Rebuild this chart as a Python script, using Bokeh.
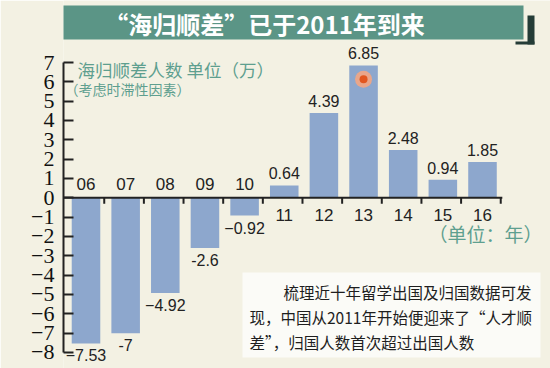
from bokeh.plotting import figure
from bokeh.models import ColumnDataSource, FixedTicker, BoxAnnotation, Range1d
from bokeh.core.properties import value
from bokeh.embed import file_html
from bokeh.resources import INLINE

# ---- data ----
years = ["06", "07", "08", "09", "10", "11", "12", "13", "14", "15", "16"]
net_returnees = [-7.53, -7, -4.92, -2.6, -0.92, 0.64, 4.39, 6.85, 2.48, 0.94, 1.85]
value_labels = ["\u22127.53", "-7", "\u22124.92", "-2.6", "\u22120.92", "0.64", "4.39", "6.85", "2.48", "0.94", "1.85"]
y_ticks = list(range(-8, 8))

title_text = "\u201c海归顺差\u201d已于2011年到来"
note1 = "海归顺差人数 单位（万）"
note2 = "（考虑时滞性因素）"
unit_text = "（单位：年）"
box_lines = ["梳理近十年留学出国及归国数据可发",
             "现，中国从2011年开始便迎来了\u201c人才顺",
             "差\u201d，归国人数首次超过出国人数"]

# ---- geometry helpers (canvas-pixel -> data) ----
PXX = 39.65
X0 = 85.5
PXY = 19.333
Y0 = 62 + 7 * PXY


def dx(px):
    return (px - X0) / PXX


def dy(py):
    return (Y0 - py) / PXY


W, H = 550, 368
LEFT = 63
BG = "#f3f1e3"
TEAL = "#5e9f8f"

x_start = dx(LEFT)
x_end = x_start + (W - LEFT) / PXX
y_end = dy(0)
y_start = dy(H)

p = figure(width=W, height=H, output_backend="svg", toolbar_location=None,
           x_range=Range1d(x_start, x_end), y_range=Range1d(y_start, y_end),
           x_axis_location=None, min_border_left=LEFT, min_border_right=0,
           min_border_top=0, min_border_bottom=0)
p.background_fill_color = BG
p.border_fill_color = BG
p.outline_line_color = None
p.xgrid.visible = False
p.ygrid.visible = False

ax = p.yaxis[0]
ax.ticker = FixedTicker(ticks=y_ticks)
ax.bounds = (-8, 7)
ax.major_tick_in = 10
ax.major_tick_out = 0
ax.minor_tick_line_color = None
ax.axis_line_width = 2
ax.axis_line_color = "#222222"
ax.major_tick_line_width = 2
ax.major_tick_line_color = "#222222"
ax.major_label_text_font = "Liberation Serif"
ax.major_label_text_font_size = "22px"
ax.major_label_text_color = "#111111"
ax.major_label_standoff = 9


def canvas_box(l, r, t, b, color, level="annotation"):
    return BoxAnnotation(left=l, right=r, top=t, bottom=b,
                         left_units="canvas", right_units="canvas",
                         top_units="canvas", bottom_units="canvas",
                         fill_color=color, fill_alpha=1, line_color=None, level=level)


# banner
p.add_layout(canvas_box(24, 523, 5, 39, "#5b9586", "underlay"))
for (l, r, t, b) in [(14, 22, 15, 43), (14, 33, 40, 43), (527, 534, 15, 44), (515, 534, 41, 44)]:
    p.add_layout(canvas_box(l, r, t, b, "#243c37"))
# text box
p.add_layout(canvas_box(242, 540, 272, 357, "#fbfbf7", "underlay"))

idx = list(range(len(years)))
src = ColumnDataSource(dict(
    x=idx, top=net_returnees, lab=value_labels, year=years,
    lab_y=net_returnees,
    lab_base=["top" if v < 0 else "bottom" for v in net_returnees],
    lab_off=[6 if v < 0 else -6 for v in net_returnees],
    year_base=["bottom" if v < 0 else "top" for v in net_returnees],
    year_off=[-8 if v < 0 else 11 for v in net_returnees],
    zero=[0] * len(years),
))

p.vbar(x="x", top="top", bottom=0, width=0.72, source=src,
       fill_color="#8da7cd", line_color=None)

# zero line with ticks
n = len(years)
p.segment(x0=[x_start], y0=[0], x1=[n - 0.5], y1=[0], line_color="#222222", line_width=2)
p.segment(x0=[i + 0.46 for i in idx], y0=[0] * n, x1=[i + 0.46 for i in idx],
          y1=[-6 / PXY] * n, line_color="#222222", line_width=2)

# value labels
p.text(x="x", y="lab_y", text="lab", source=src, text_align="center",
       text_baseline="lab_base", y_offset="lab_off",
       text_font=value("Liberation Sans"), text_font_size="16px", text_color="#222222")
# year labels
p.text(x="x", y="zero", text="year", source=src, text_align="center",
       text_baseline="year_base", y_offset="year_off",
       text_font=value("Liberation Sans"), text_font_size="17px", text_color="#222222")

# highlight dot on the peak
imax = net_returnees.index(max(net_returnees))
p.scatter(x=[imax], y=[max(net_returnees) - 0.72], size=17, fill_color="#f3a683",
          fill_alpha=0.9, line_color=None)
p.scatter(x=[imax], y=[max(net_returnees) - 0.72], size=8, fill_color="#e2561f", line_color=None)

# texts
cjk = value("Noto Sans CJK SC")
p.text(x=[dx(264)], y=[dy(23)], text=[title_text], text_align="center", text_baseline="middle",
       text_font=cjk, text_font_size="24px", text_font_style="bold", text_color="white")
p.text(x=[dx(77)], y=[dy(69)], text=[note1], text_align="left", text_baseline="middle",
       text_font=cjk, text_font_size="17.5px", text_color=TEAL)
p.text(x=[dx(64)], y=[dy(88)], text=[note2], text_align="left", text_baseline="middle",
       text_font=cjk, text_font_size="14px", text_color=TEAL)
p.text(x=[dx(428)], y=[dy(233)], text=[unit_text], text_align="left", text_baseline="middle",
       text_font=cjk, text_font_size="19px", text_color=TEAL)
p.text(x=[dx(283), dx(249), dx(249)], y=[dy(291), dy(316), dy(341)], text=box_lines,
       text_align="left", text_baseline="middle",
       text_font=cjk, text_font_size="15.5px", text_color="#1e1e1e")

open("out.html", "w").write(file_html(p, INLINE))
